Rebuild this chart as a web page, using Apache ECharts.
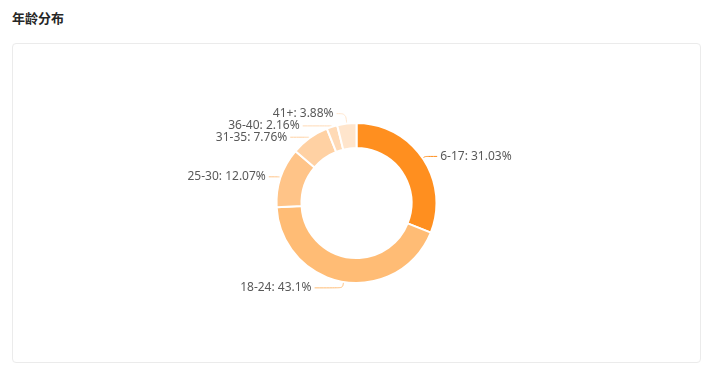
<!DOCTYPE html>
<html><head><meta charset="utf-8">
<script src="https://cdn.jsdelivr.net/npm/echarts@6/dist/echarts.min.js"></script>
<style>
html,body{margin:0;padding:0;background:#fff;width:713px;height:373px;overflow:hidden;font-family:"Noto Sans CJK SC","Noto Sans",sans-serif;}
#title{position:absolute;left:12px;top:9px;font-size:13px;font-weight:bold;color:#262626;line-height:18px;}
#card{position:absolute;left:12px;top:43px;width:687px;height:318px;border:1px solid #ebebeb;border-radius:4px;}
#chart{width:687px;height:318px;}
</style></head>
<body>
<div id="title">年龄分布</div>
<div id="card"><div id="chart"></div></div>
<script>
const categories = ['6-17','18-24','25-30','31-35','36-40','41+'];
const values = [72, 100, 28, 18, 5, 9];
const colors = ['#FF8F1F','#FFBC75','#FFC488','#FFD1A3','#FFDAB6','#FFE5CC'];
const lineLen = [[3,12],[6,28],[2,10],[1,19],[1,29],[10,9]];
const chart = echarts.init(document.getElementById('chart'));
chart.setOption({
  animation:false,
  series:[{
    type:'pie',
    radius:[55,80],
    center:['50%','50%'],
    startAngle:90,
    clockwise:true,
    avoidLabelOverlap:false,
    labelLayout:{hideOverlap:false},
    itemStyle:{borderColor:'#fff',borderWidth:2},
    label:{formatter:'{b}: {d}%',color:'#595959',fontSize:12,lineHeight:12,distanceToLabelLine:3,fontFamily:'"Noto Sans",sans-serif'},
    labelLine:{smooth:0.3},
    data: categories.map((c,i)=>({name:c,value:values[i],itemStyle:{color:colors[i]},
      labelLine:{length:lineLen[i][0],length2:lineLen[i][1]}}))
  }]
});
</script>
</body></html>
